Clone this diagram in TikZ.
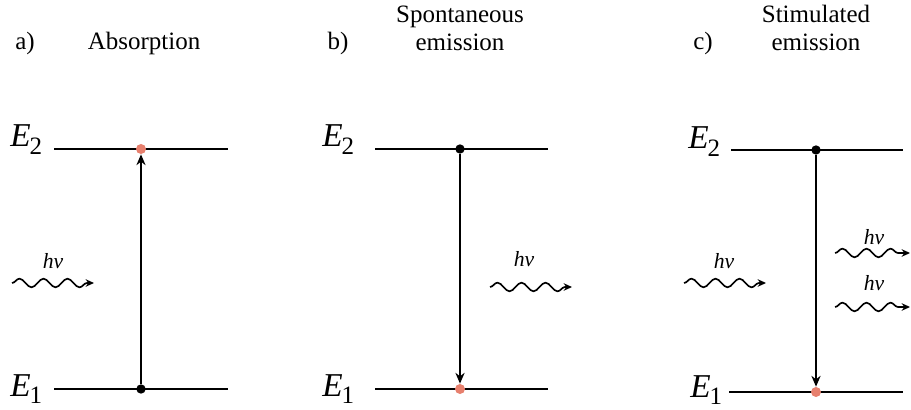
\documentclass[tikz,border=0pt]{standalone}
\usepackage{fontspec}
\setmainfont{Liberation Serif}
\usetikzlibrary{arrows.meta,decorations.pathmorphing}

\definecolor{dotred}{RGB}{231,128,110}
\newcommand{\lvl}[1]{\textit{E}\kern-0.6pt\raisebox{-4.4pt}{\fontsize{15}{15}\selectfont #1}}

\tikzset{
  level/.style={line width=1.4pt},
  trans/.style={line width=1.4pt,-{Stealth[length=6.5pt,width=5.5pt]}},
  photon/.style={line width=1pt,-{Stealth[length=5pt,width=4.5pt]},decorate,
    decoration={snake,amplitude=2.6pt,segment length=14.4pt,post length=4pt}},
  blackdot/.style={circle,fill=black,inner sep=0pt,minimum size=5.6pt},
  reddot/.style={circle,fill=dotred,inner sep=0pt,minimum size=6pt},
  elabel/.style={font=\fontsize{20}{20}\selectfont,anchor=base west,inner sep=0pt},
  hvlabel/.style={font=\fontsize{13}{13}\selectfont\itshape,anchor=base,inner sep=0pt},
  title/.style={font=\fontsize{15}{15}\selectfont,anchor=base,inner sep=0pt}
}

\begin{document}
\begin{tikzpicture}[x=0.6pt,y=-0.6pt]
  \useasboundingbox (0,0) rectangle (911,410);
  % a) Absorption
  \node[title] (ta) at (25,50) {a)};
  \node[title] (ta2) at (144,50) {Absorption};
  \node[elabel] (ea2) at (10,147) {\lvl{2}};
  \node[elabel] (ea1) at (10,396) {\lvl{1}};
  \coordinate (a2l) at (54,149);  \coordinate (a2r) at (228,149);
  \coordinate (a1l) at (54,389);  \coordinate (a1r) at (228,389);
  \draw[level] (a2l) -- (a2r);
  \draw[level] (a1l) -- (a1r);
  \node[reddot] (atop) at (141,149) {};
  \node[blackdot] (abot) at (141,389) {};
  \draw[trans] (abot) -- (atop);
  \coordinate (pa1) at (12,283); \coordinate (pa2) at (94,283);
  \draw[photon] (pa1) -- (pa2);
  \node[hvlabel] (hva) at (53,268) {hν};
  % b) Spontaneous emission
  \node[title] (tb) at (338,50) {b)};
  \node[title] (tb2) at (460,23) {Spontaneous};
  \node[title] (tb3) at (460,51) {emission};
  \node[elabel] (eb2) at (322,147) {\lvl{2}};
  \node[elabel] (eb1) at (322,396) {\lvl{1}};
  \coordinate (b2l) at (375,149); \coordinate (b2r) at (548,149);
  \coordinate (b1l) at (375,389); \coordinate (b1r) at (548,389);
  \draw[level] (b2l) -- (b2r);
  \draw[level] (b1l) -- (b1r);
  \node[blackdot] (btop) at (460,149) {};
  \node[reddot] (bbot) at (460,389) {};
  \draw[trans] (btop) -- (bbot);
  \coordinate (pb1) at (490,287); \coordinate (pb2) at (572,287);
  \draw[photon] (pb1) -- (pb2);
  \node[hvlabel] (hvb) at (524,267) {hν};
  % c) Stimulated emission
  \node[title] (tc) at (703,50) {c)};
  \node[title] (tc2) at (816,23) {Stimulated};
  \node[title] (tc3) at (816,51) {emission};
  \node[elabel] (ec2) at (688,149) {\lvl{2}};
  \node[elabel] (ec1) at (690,397) {\lvl{1}};
  \coordinate (c2l) at (731,150); \coordinate (c2r) at (903,150);
  \coordinate (c1l) at (729,392); \coordinate (c1r) at (903,392);
  \draw[level] (c2l) -- (c2r);
  \draw[level] (c1l) -- (c1r);
  \node[blackdot] (ctop) at (816,150) {};
  \node[reddot] (cbot) at (816,392) {};
  \draw[trans] (ctop) -- (cbot);
  \coordinate (pc1) at (684,283); \coordinate (pc2) at (766,283);
  \draw[photon] (pc1) -- (pc2);
  \node[hvlabel] (hvc) at (724,268) {hν};
  \coordinate (pd1) at (835,253); \coordinate (pd2) at (910,253);
  \draw[photon] (pd1) -- (pd2);
  \node[hvlabel] (hvd) at (874,245) {hν};
  \coordinate (pe1) at (835,307); \coordinate (pe2) at (910,307);
  \draw[photon] (pe1) -- (pe2);
  \node[hvlabel] (hve) at (874,290) {hν};
\end{tikzpicture}
\end{document}
